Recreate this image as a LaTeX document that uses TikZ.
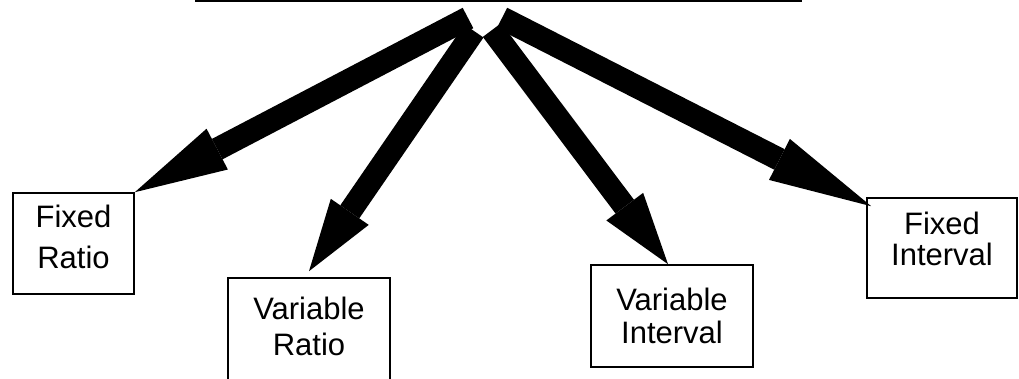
\documentclass[tikz,border=0pt]{standalone}
\usepackage{fontspec}
\setmainfont{Liberation Sans}
\usetikzlibrary{arrows.meta}

\begin{document}
\begin{tikzpicture}[
    x=1pt, y=-1pt,
    box/.style={draw=black, line width=1.6pt, align=center, inner sep=0pt,
                font=\fontsize{31}{#1}\selectfont},
    arrow/.style={line width=23pt, -{Triangle[length=#1, width=46pt, line width=0pt]}}
]
\useasboundingbox (0,0) rectangle (1019,378);

% edge of the box above
\draw[line width=2.5pt] (195,1) -- (802,1);

% schedule boxes
\node[box=41pt, minimum width=121pt, minimum height=101pt, text depth=13.7pt] (fr) at (73.5,243.5) {Fixed\\Ratio};
\node[box=36pt, minimum width=162pt, minimum height=102pt, text depth=6.3pt] (vr) at (309,329) {Variable\\Ratio};
\node[box=33pt, minimum width=162pt, minimum height=102pt, text depth=0pt] (vi) at (672,316) {Variable\\Interval};
\node[box=31pt, minimum width=150pt, minimum height=100pt, text depth=18pt] (fi) at (942,248) {Fixed\\Interval};

% arrow tails
\coordinate (s1) at (468,18);
\coordinate (s2) at (474,31);
\coordinate (s3) at (492,30);
\coordinate (s4) at (502,18);

\draw[arrow=93pt] (s1) -- (fr.north east);
\draw[arrow=72pt] (s2) -- ([yshift=6pt]vr.north);
\draw[arrow=72pt] (s3) -- ([xshift=-4pt]vi.north);
\draw[arrow=103pt] (s4) -- ([shift={(5pt,-9pt)}]fi.north west);

\end{tikzpicture}
\end{document}
